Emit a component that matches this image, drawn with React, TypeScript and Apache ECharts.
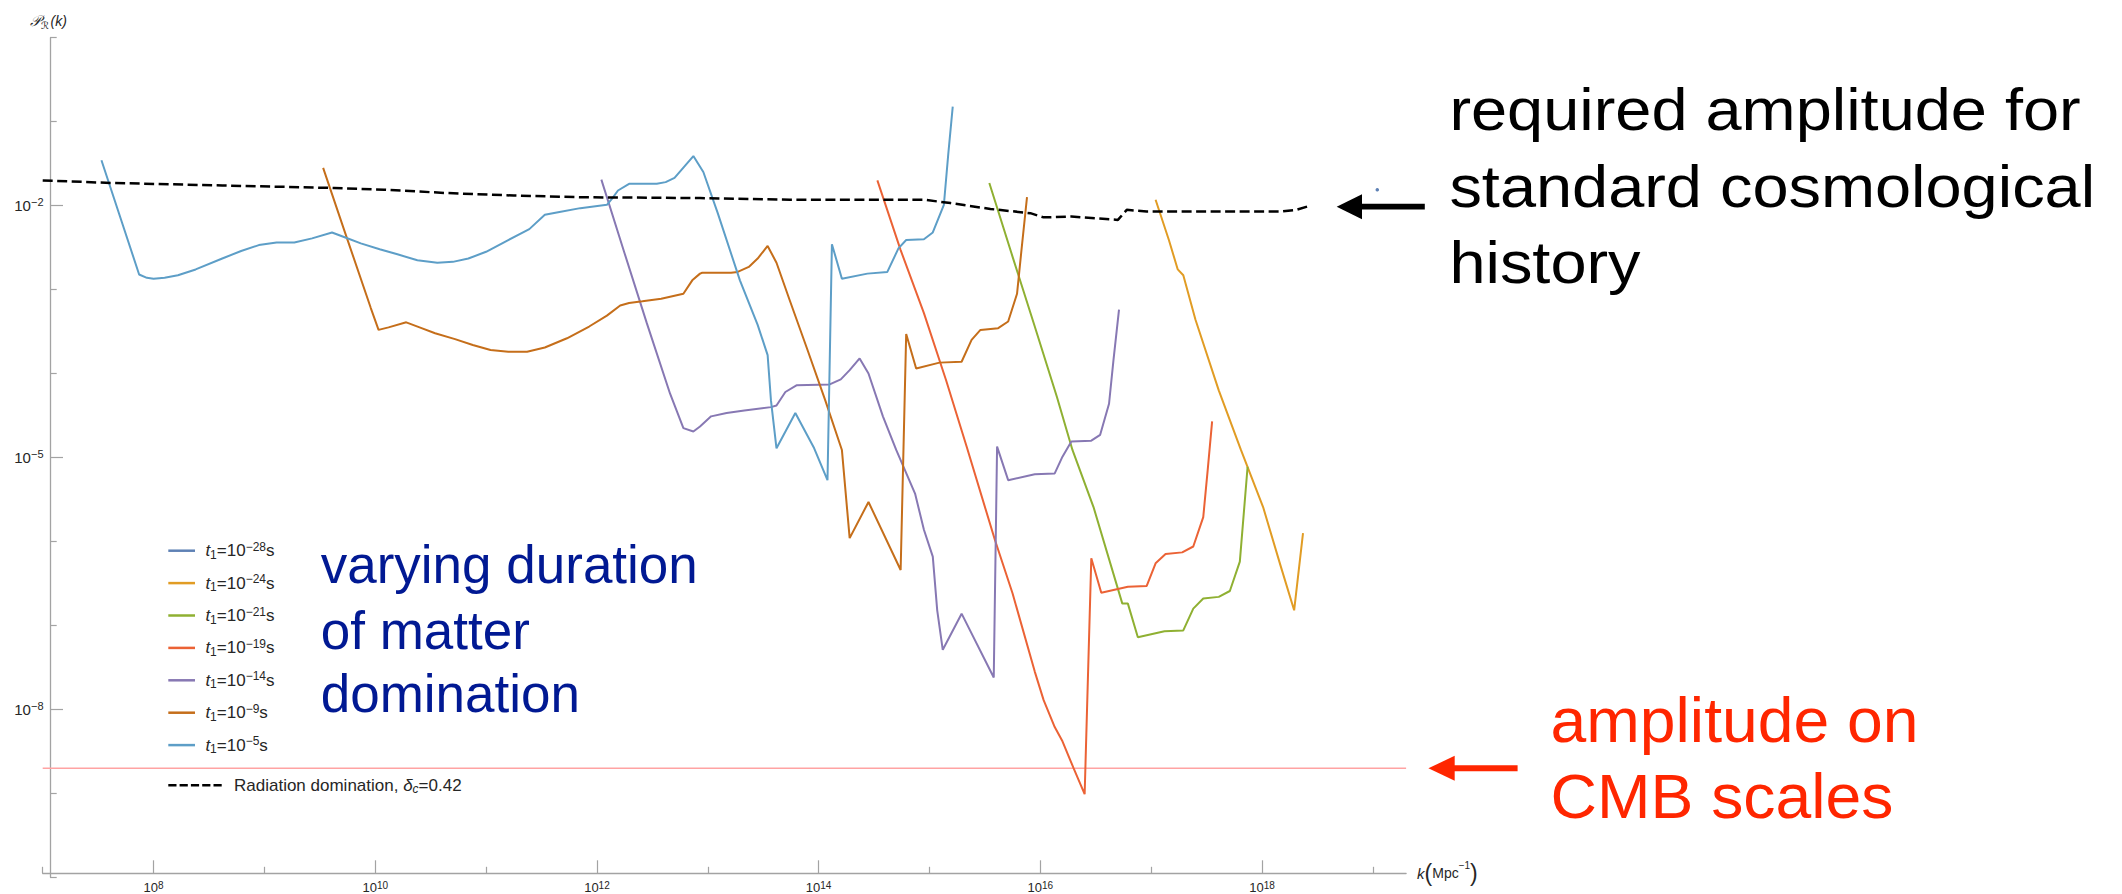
import React, { useEffect, useRef } from 'react';
import * as echarts from 'echarts';

// Axes are in log10 units: x = log10(k / Mpc^-1), y = log10(P_R(k))
const xMin = 7;
const xMax = 19.3;
const yMin = -10;
const yMax = 0;
const xLabelTicks = [8, 10, 12, 14, 16, 18];
const xMinorTicks = [7, 9, 11, 13, 15, 17, 19];
const yLabelTicks = [-2, -5, -8];
const yMinorTicks = [-10, -9, -7, -6, -4, -3, -1, 0];

const seriesNames = ['t1=10^-28s', 't1=10^-24s', 't1=10^-21s', 't1=10^-19s', 't1=10^-14s', 't1=10^-9s', 't1=10^-5s'];
const seriesExponents = ['\u221228', '\u221224', '\u221221', '\u221219', '\u221214', '\u22129', '\u22125'];
const seriesColors = ['#5E81B5', '#E19C24', '#8FB032', '#EB6235', '#8778B3', '#C56E1A', '#5D9EC7'];

// [log10 k, log10 P]
const t28 = [[19.04, -1.81]];
const t24 = [
  [17.04, -1.93], [17.16, -2.41], [17.24, -2.76], [17.29, -2.83], [17.4, -3.36], [17.61, -4.2],
  [17.81, -4.91], [18.01, -5.59], [18.17, -6.3], [18.29, -6.82], [18.37, -5.9],
];
const t21 = [
  [15.54, -1.73], [15.75, -2.61], [15.95, -3.44], [16.15, -4.28], [16.29, -4.91], [16.48, -5.59],
  [16.74, -6.74], [16.79, -6.74], [16.88, -7.14], [17.12, -7.07], [17.29, -7.06], [17.38, -6.8],
  [17.47, -6.68], [17.61, -6.66], [17.71, -6.59], [17.8, -6.24], [17.87, -5.11],
];
const t19 = [
  [14.53, -1.7], [14.74, -2.53], [14.95, -3.28], [15.15, -4.08], [15.34, -4.89], [15.59, -5.98],
  [15.75, -6.62], [15.95, -7.55], [16.03, -7.89], [16.13, -8.21], [16.2, -8.38], [16.3, -8.7],
  [16.4, -9.01], [16.46, -6.2], [16.55, -6.61], [16.79, -6.54], [16.96, -6.53], [17.04, -6.26],
  [17.13, -6.15], [17.28, -6.13], [17.38, -6.06], [17.47, -5.71], [17.51, -5.15], [17.55, -4.57],
];
const t14 = [
  [12.04, -1.69], [12.25, -2.57], [12.45, -3.4], [12.66, -4.24], [12.78, -4.65], [12.87, -4.69],
  [12.93, -4.63], [13.03, -4.51], [13.17, -4.47], [13.33, -4.44], [13.57, -4.4], [13.62, -4.38],
  [13.7, -4.22], [13.8, -4.14], [14.1, -4.13], [14.2, -4.07], [14.28, -3.96], [14.37, -3.82],
  [14.45, -4.0], [14.58, -4.51], [14.7, -4.91], [14.87, -5.43], [14.95, -5.86], [15.03, -6.18],
  [15.07, -6.82], [15.12, -7.29], [15.29, -6.86], [15.58, -7.62], [15.61, -4.87], [15.71, -5.27],
  [15.95, -5.2], [16.13, -5.19], [16.2, -4.99], [16.28, -4.81], [16.46, -4.8], [16.54, -4.73],
  [16.62, -4.36], [16.66, -3.84], [16.71, -3.24],
];
const t9 = [
  [9.53, -1.55], [9.73, -2.33], [9.96, -3.22], [10.03, -3.48], [10.12, -3.45], [10.28, -3.39],
  [10.4, -3.45], [10.54, -3.52], [10.72, -3.59], [10.88, -3.66], [11.04, -3.72], [11.2, -3.74],
  [11.37, -3.74], [11.53, -3.69], [11.73, -3.58], [11.93, -3.44], [12.09, -3.31], [12.21, -3.19],
  [12.29, -3.16], [12.41, -3.14], [12.58, -3.11], [12.78, -3.05], [12.86, -2.89], [12.93, -2.81],
  [12.95, -2.8], [13.21, -2.8], [13.27, -2.79], [13.37, -2.73], [13.45, -2.63], [13.54, -2.48],
  [13.62, -2.68], [13.74, -3.13], [13.9, -3.72], [14.06, -4.32], [14.21, -4.91], [14.28, -5.96],
  [14.45, -5.53], [14.74, -6.34], [14.79, -3.53], [14.88, -3.94], [15.09, -3.87], [15.29, -3.86],
  [15.38, -3.6], [15.46, -3.48], [15.62, -3.46], [15.71, -3.38], [15.79, -3.05], [15.83, -2.53],
  [15.88, -1.9],
];
const t5 = [
  [7.53, -1.46], [7.87, -2.82], [7.94, -2.86], [8.0, -2.87], [8.1, -2.86], [8.22, -2.83],
  [8.38, -2.76], [8.62, -2.63], [8.79, -2.54], [8.95, -2.47], [9.11, -2.44], [9.27, -2.44],
  [9.43, -2.39], [9.61, -2.32], [9.73, -2.38], [9.87, -2.45], [10.04, -2.52], [10.2, -2.58],
  [10.38, -2.65], [10.56, -2.68], [10.7, -2.67], [10.84, -2.63], [11.0, -2.55], [11.2, -2.41],
  [11.39, -2.28], [11.53, -2.11], [11.65, -2.08], [11.85, -2.03], [12.09, -1.99], [12.14, -1.91],
  [12.19, -1.82], [12.29, -1.74], [12.54, -1.74], [12.62, -1.72], [12.7, -1.67], [12.87, -1.41],
  [12.96, -1.6], [13.09, -2.09], [13.29, -2.89], [13.45, -3.42], [13.54, -3.78], [13.57, -4.32],
  [13.62, -4.89], [13.79, -4.47], [13.96, -4.89], [14.08, -5.27], [14.12, -2.46], [14.21, -2.87],
  [14.44, -2.81], [14.62, -2.79], [14.72, -2.51], [14.79, -2.41], [14.95, -2.4], [15.03, -2.32],
  [15.13, -1.99], [15.17, -1.38], [15.21, -0.82],
];
const seriesData = [t28, t24, t21, t19, t14, t9, t5];

const radiationName = 'Radiation domination, \u03b4c=0.42';
const radiation = [
  [7.0, -1.7], [7.62, -1.73], [8.62, -1.76], [9.63, -1.79], [10.08, -1.81], [10.64, -1.85],
  [11.25, -1.88], [11.85, -1.9], [12.93, -1.91], [13.74, -1.93], [14.95, -1.93], [15.19, -1.97],
  [15.55, -2.04], [15.91, -2.09], [16.03, -2.14], [16.28, -2.13], [16.7, -2.17], [16.78, -2.05],
  [16.96, -2.07], [18.17, -2.07], [18.31, -2.05], [18.41, -2.01],
];
const cmbAmplitude = [[7, -8.7], [19.3, -8.7]];

const FONT = "'Liberation Sans', Arial, Helvetica, sans-serif";
const NARROW = "'Liberation Sans Narrow', 'Liberation Sans', Arial, sans-serif";
const SERIF = "'DejaVu Serif', 'DejaVu Sans', serif";
const AXIS_COLOR = '#a3a3a3';
const LABEL_COLOR = '#262626';

export default function App() {
  const ref = useRef<HTMLDivElement>(null);

  useEffect(() => {
    if (!ref.current) return;
    const chart = echarts.init(ref.current, undefined, { renderer: 'svg' });

    const tickRichX = {
      b: { fontSize: 13, lineHeight: 13, fontFamily: NARROW, color: LABEL_COLOR },
      s: { fontSize: 10, lineHeight: 6, verticalAlign: 'top', fontFamily: NARROW, color: LABEL_COLOR },
    };
    const tickRichY = {
      b: { fontSize: 15, lineHeight: 18, fontFamily: NARROW, color: LABEL_COLOR },
      s: { fontSize: 11, lineHeight: 11, verticalAlign: 'top', fontFamily: NARROW, color: LABEL_COLOR },
    };
    const legendRich = {
      t: { fontSize: 17, lineHeight: 20, fontStyle: 'italic', fontFamily: FONT, color: LABEL_COLOR, padding: [0, 0, 0, 5.4] },
      sub: { fontSize: 12, lineHeight: 12, verticalAlign: 'bottom', fontFamily: FONT, color: LABEL_COLOR },
      n: { fontSize: 17, lineHeight: 20, fontFamily: FONT, color: LABEL_COLOR },
      sup: { fontSize: 12, lineHeight: 12, verticalAlign: 'top', fontFamily: FONT, color: LABEL_COLOR },
      r: { fontSize: 17, lineHeight: 20, fontFamily: FONT, color: LABEL_COLOR, padding: [0, 0, 0, 7.3] },
      rn: { fontSize: 17, lineHeight: 20, fontFamily: FONT, color: LABEL_COLOR },
      d: { fontSize: 17, lineHeight: 20, fontStyle: 'italic', fontFamily: FONT, color: LABEL_COLOR },
      subi: { fontSize: 12, lineHeight: 12, verticalAlign: 'bottom', fontStyle: 'italic', fontFamily: FONT, color: LABEL_COLOR },
    };

    const dataSeries = seriesData.map((d, i) => ({
      type: 'line',
      name: seriesNames[i],
      data: d,
      xAxisIndex: 0,
      yAxisIndex: 0,
      showSymbol: d.length === 1,
      symbol: 'circle',
      symbolSize: 3.5,
      lineStyle: { color: seriesColors[i], width: 2 },
      itemStyle: { color: seriesColors[i] },
      silent: true,
      z: 3,
    }));

    const option = {
      animation: false,
      backgroundColor: '#ffffff',
      grid: { left: 42.7, top: 37.7, width: 1363.4, height: 839.6, containLabel: false, outerBoundsMode: 'none' },
      xAxis: [
        {
          type: 'value', min: xMin, max: xMax, position: 'bottom', offset: -4,
          axisLine: { show: true, onZero: false, lineStyle: { color: AXIS_COLOR, width: 1.3 } },
          axisTick: { show: true, inside: true, length: 13, customValues: xLabelTicks, lineStyle: { color: AXIS_COLOR, width: 1.2 } },
          axisLabel: {
            show: true, customValues: xLabelTicks, margin: 7.5,
            formatter: (v: number) => `{b|10}{s|${v}}`,
            rich: tickRichX,
          },
          splitLine: { show: false },
          name: '{k|k}{p|(}{t|Mpc}{s|\u22121}{p|)}',
          nameLocation: 'end',
          nameGap: 11,
          nameTextStyle: {
            align: 'left', verticalAlign: 'middle',
            rich: {
              k: { fontSize: 15, fontStyle: 'italic', fontFamily: FONT, color: LABEL_COLOR, lineHeight: 26 },
              p: { fontSize: 23, fontFamily: FONT, color: LABEL_COLOR, lineHeight: 26 },
              t: { fontSize: 14, fontFamily: FONT, color: LABEL_COLOR, lineHeight: 26 },
              s: { fontSize: 10, fontFamily: FONT, color: LABEL_COLOR, lineHeight: 18, verticalAlign: 'top' },
            },
          },
        },
        {
          type: 'value', min: xMin, max: xMax, position: 'bottom', offset: -4,
          axisLine: { show: false, onZero: false },
          axisTick: { show: true, inside: true, length: 6.5, customValues: xMinorTicks, lineStyle: { color: AXIS_COLOR, width: 1.2 } },
          axisLabel: { show: false },
          splitLine: { show: false },
        },
      ],
      yAxis: [
        {
          type: 'value', min: yMin, max: yMax, position: 'left', offset: -7.3,
          axisLine: { show: true, onZero: false, lineStyle: { color: AXIS_COLOR, width: 1.3 } },
          axisTick: { show: true, inside: true, length: 13, customValues: yLabelTicks, lineStyle: { color: AXIS_COLOR, width: 1.2 } },
          axisLabel: {
            show: true, customValues: yLabelTicks, margin: 6.5,
            formatter: (v: number) => `{b|10}{s|\u2212${-v}}`,
            rich: tickRichY,
          },
          splitLine: { show: false },
        },
        {
          type: 'value', min: yMin, max: yMax, position: 'left', offset: -7.3,
          axisLine: { show: false, onZero: false },
          axisTick: { show: true, inside: true, length: 6.7, customValues: yMinorTicks, lineStyle: { color: AXIS_COLOR, width: 1.2 } },
          axisLabel: { show: false },
          splitLine: { show: false },
        },
      ],
      legend: [
        {
          data: seriesNames,
          orient: 'vertical',
          left: 168.3,
          top: 540.7,
          padding: 0,
          itemGap: 12.4,
          itemWidth: 26.7,
          itemHeight: 2.5,
          icon: 'rect',
          selectedMode: false,
          textStyle: { fontFamily: FONT, fontSize: 17, color: LABEL_COLOR, rich: legendRich },
          formatter: (name: string) => {
            const i = seriesNames.indexOf(name);
            return `{t|t}{sub|1}{n|=10}{sup|${seriesExponents[i]}}{n|s}`;
          },
        },
        {
          data: [radiationName],
          orient: 'vertical',
          left: 168.3,
          top: 776.7,
          padding: 0,
          itemWidth: 53.4,
          itemHeight: 2.5,
          icon: 'path://M0,0h8.2v2.5h-8.2z M11.3,0h8.2v2.5h-8.2z M22.6,0h8.2v2.5h-8.2z M33.9,0h8.2v2.5h-8.2z M45.2,0h8.2v2.5h-8.2z',
          selectedMode: false,
          textStyle: { fontFamily: FONT, fontSize: 17, color: LABEL_COLOR, rich: legendRich },
          formatter: () => '{r|Radiation domination, }{d|\u03b4}{subi|c}{rn|=0.42}',
        },
      ],
      series: [
        ...dataSeries,
        {
          type: 'line',
          name: radiationName,
          data: radiation,
          showSymbol: false,
          symbol: 'none',
          lineStyle: { color: '#000000', width: 2.5, type: [10, 4.5] },
          itemStyle: { color: '#000000' },
          silent: true,
          z: 4,
        },
        {
          type: 'line',
          name: 'CMB amplitude',
          data: cmbAmplitude,
          showSymbol: false,
          symbol: 'none',
          lineStyle: { color: '#FFA3A3', width: 1.5 },
          itemStyle: { color: '#FFA3A3' },
          silent: true,
          z: 2,
        },
      ],
      graphic: [
        {
          type: 'text', x: 30, y: 21,
          style: {
            text: '{P|\ud835\udcab}{R|\u211b}{k|(k)}',
            align: 'left', verticalAlign: 'middle',
            rich: {
              P: { fontSize: 15, fontFamily: SERIF, fontStyle: 'italic', fill: LABEL_COLOR, lineHeight: 18 },
              R: { fontSize: 10, fontFamily: SERIF, fill: LABEL_COLOR, lineHeight: 10, verticalAlign: 'bottom' },
              k: { fontSize: 14, fontFamily: FONT, fontStyle: 'italic', fill: LABEL_COLOR, lineHeight: 18, padding: [0, 0, 0, 1.5] },
            },
          },
        },
        { type: 'text', x: 1449.4, y: 109.6, scaleX: 1.1, style: { text: 'required amplitude for', fontSize: 59, fontFamily: FONT, fill: '#000000', align: 'left', verticalAlign: 'middle' } },
        { type: 'text', x: 1449.4, y: 186.6, scaleX: 1.1, style: { text: 'standard cosmological', fontSize: 59, fontFamily: FONT, fill: '#000000', align: 'left', verticalAlign: 'middle' } },
        { type: 'text', x: 1449.4, y: 262.6, scaleX: 1.1, style: { text: 'history', fontSize: 59, fontFamily: FONT, fill: '#000000', align: 'left', verticalAlign: 'middle' } },
        { type: 'polygon', shape: { points: [[1336.7, 206.7], [1362, 194.2], [1362, 219.2]] }, style: { fill: '#000000' } },
        { type: 'rect', shape: { x: 1358, y: 203.8, width: 66.8, height: 5.8 }, style: { fill: '#000000' } },

        { type: 'text', x: 1550.6, y: 719.9, scaleX: 1.02, style: { text: 'amplitude on', fontSize: 63, fontFamily: FONT, fill: '#FF2600', align: 'left', verticalAlign: 'middle' } },
        { type: 'text', x: 1550.6, y: 796.2, scaleX: 1.02, style: { text: 'CMB scales', fontSize: 63, fontFamily: FONT, fill: '#FF2600', align: 'left', verticalAlign: 'middle' } },
        { type: 'polygon', shape: { points: [[1428.4, 768.3], [1454.7, 755.8], [1454.7, 780.8]] }, style: { fill: '#FF2600' } },
        { type: 'rect', shape: { x: 1451, y: 765.3, width: 66.6, height: 6 }, style: { fill: '#FF2600' } },

        { type: 'text', x: 320.7, y: 564.9, style: { text: 'varying duration', fontSize: 53, fontFamily: FONT, fill: '#011993', align: 'left', verticalAlign: 'middle' } },
        { type: 'text', x: 320.7, y: 630.6, style: { text: 'of matter', fontSize: 53, fontFamily: FONT, fill: '#011993', align: 'left', verticalAlign: 'middle' } },
        { type: 'text', x: 320.7, y: 693.3, style: { text: 'domination', fontSize: 53, fontFamily: FONT, fill: '#011993', align: 'left', verticalAlign: 'middle' } },
      ],
    };

    chart.setOption(option as any);
    return () => chart.dispose();
  }, []);

  return (
    <div
      ref={ref}
      style={{ position: 'fixed', left: 0, top: 0, width: 2122, height: 894, background: '#ffffff' }}
    />
  );
}
